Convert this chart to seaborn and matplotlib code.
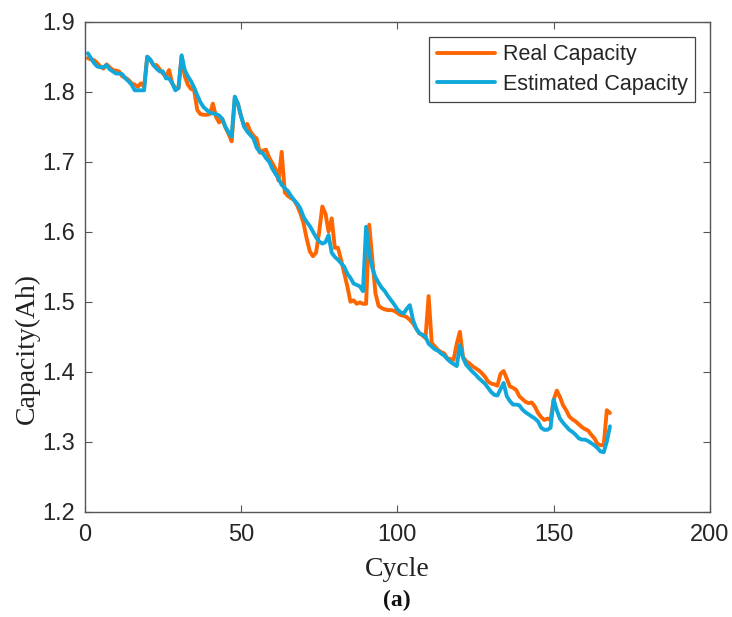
import numpy as np
import pandas as pd
import matplotlib
matplotlib.use("Agg")
import matplotlib.pyplot as plt
import seaborn as sns
from matplotlib.lines import Line2D

cycles = list(range(1, 169))

real_capacity = [
    1.848, 1.846, 1.845, 1.841, 1.836, 1.833, 1.839, 1.835, 1.831, 1.830,
    1.829, 1.822, 1.820, 1.817, 1.812, 1.810, 1.807, 1.812, 1.807, 1.850,
    1.845, 1.838, 1.838, 1.832, 1.826, 1.822, 1.831, 1.812, 1.805, 1.806,
    1.850, 1.822, 1.810, 1.804, 1.802, 1.774, 1.768, 1.767, 1.767, 1.768,
    1.783, 1.764, 1.756, 1.761, 1.749, 1.740, 1.729, 1.790, 1.783, 1.765,
    1.751, 1.754, 1.743, 1.737, 1.733, 1.713, 1.716, 1.717, 1.706, 1.698,
    1.690, 1.673, 1.714, 1.656, 1.651, 1.648, 1.645, 1.637, 1.626, 1.612,
    1.590, 1.572, 1.565, 1.570, 1.600, 1.636, 1.626, 1.600, 1.619, 1.577,
    1.577, 1.560, 1.541, 1.522, 1.500, 1.502, 1.497, 1.499, 1.497, 1.497,
    1.610, 1.560, 1.512, 1.494, 1.491, 1.489, 1.488, 1.488, 1.487, 1.484,
    1.481, 1.480, 1.478, 1.474, 1.469, 1.462, 1.455, 1.452, 1.448, 1.508,
    1.441, 1.436, 1.431, 1.428, 1.426, 1.419, 1.418, 1.417, 1.440, 1.457,
    1.421, 1.415, 1.412, 1.408, 1.405, 1.402, 1.398, 1.393, 1.386, 1.383,
    1.382, 1.380, 1.397, 1.401, 1.390, 1.379, 1.377, 1.374, 1.365, 1.361,
    1.357, 1.355, 1.356, 1.350, 1.341, 1.335, 1.331, 1.333, 1.331, 1.360,
    1.373, 1.364, 1.352, 1.345, 1.336, 1.332, 1.329, 1.325, 1.321, 1.318,
    1.316, 1.310, 1.305, 1.297, 1.295, 1.295, 1.345, 1.341,
]

estimated_capacity = [
    1.855, 1.848, 1.841, 1.836, 1.835, 1.835, 1.838, 1.832, 1.829, 1.826,
    1.826, 1.825, 1.819, 1.815, 1.810, 1.802, 1.802, 1.802, 1.802, 1.850,
    1.846, 1.838, 1.833, 1.829, 1.829, 1.819, 1.819, 1.812, 1.802, 1.805,
    1.852, 1.831, 1.822, 1.815, 1.806, 1.795, 1.785, 1.778, 1.774, 1.770,
    1.769, 1.768, 1.766, 1.761, 1.750, 1.742, 1.736, 1.793, 1.783, 1.765,
    1.750, 1.743, 1.738, 1.733, 1.720, 1.714, 1.712, 1.705, 1.700, 1.690,
    1.683, 1.676, 1.667, 1.662, 1.658, 1.651, 1.645, 1.640, 1.633, 1.621,
    1.614, 1.608, 1.600, 1.592, 1.586, 1.583, 1.585, 1.595, 1.570, 1.564,
    1.560, 1.555, 1.550, 1.540, 1.534, 1.526, 1.524, 1.522, 1.515, 1.607,
    1.569, 1.548, 1.535, 1.527, 1.520, 1.515, 1.508, 1.502, 1.496, 1.489,
    1.485, 1.483, 1.490, 1.495, 1.474, 1.462, 1.455, 1.453, 1.450, 1.440,
    1.436, 1.432, 1.430, 1.426, 1.423, 1.418, 1.414, 1.411, 1.408, 1.438,
    1.420, 1.410, 1.405, 1.400, 1.396, 1.391, 1.387, 1.383, 1.377, 1.371,
    1.367, 1.366, 1.375, 1.384, 1.365, 1.358, 1.353, 1.353, 1.352, 1.346,
    1.342, 1.339, 1.336, 1.333, 1.329, 1.320, 1.317, 1.317, 1.320, 1.360,
    1.345, 1.333, 1.327, 1.322, 1.317, 1.314, 1.310, 1.305, 1.303, 1.303,
    1.301, 1.298, 1.295, 1.291, 1.286, 1.285, 1.300, 1.322,
]

series_names = ["Real Capacity", "Estimated Capacity"]
series_colors = ["#FF6600", "#10A8DA"]

x_ticks = [0, 50, 100, 150, 200]
y_ticks = [1.2, 1.3, 1.4, 1.5, 1.6, 1.7, 1.8, 1.9]

df = pd.DataFrame({
    "Cycle": cycles * 2,
    "Capacity": real_capacity + estimated_capacity,
    "Series": [series_names[0]] * len(cycles) + [series_names[1]] * len(cycles),
})

sns.set_theme(style="white")
plt.rcParams["font.family"] = ["Liberation Sans", "DejaVu Sans"]

W, H = 732, 617
L, R, T, B = 84.7, 710.0, 21.7, 511.7
fig = plt.figure(figsize=(W / 100, H / 100), dpi=100)
ax = fig.add_axes([L / W, 1 - B / H, (R - L) / W, (B - T) / H])

sns.lineplot(data=df, x="Cycle", y="Capacity", hue="Series",
             hue_order=series_names, palette=series_colors,
             linewidth=2.8, ax=ax, legend=False)

ax.set_xlim(0, 200)
ax.set_ylim(1.2, 1.9)
ax.set_xticks(x_ticks)
ax.set_yticks(y_ticks)
ax.set_xticklabels([str(t) for t in x_ticks])
ax.set_yticklabels([f"{t:.1f}" for t in y_ticks])

ax.tick_params(direction="in", length=5, width=0.8, color="#555555",
               labelsize=17, labelcolor="#262626",
               top=True, right=True, bottom=True, left=True)
ax.tick_params(axis="x", pad=9)
ax.tick_params(axis="y", pad=7)
for sp in ax.spines.values():
    sp.set_visible(True)
    sp.set_color("#555555")
    sp.set_linewidth(1.0)

serif = ["Liberation Serif", "DejaVu Serif"]
ax.set_xlabel("Cycle", fontsize=20, family=serif, color="#222222")
ax.set_ylabel("Capacity(Ah)", fontsize=20, family=serif, color="#222222")
ax.xaxis.set_label_coords((397 - L) / (R - L), (B - 570) / (B - T))
ax.xaxis.label.set_va("center")
ax.yaxis.set_label_coords((27 - L) / (R - L), (B - 349) / (B - T))
ax.yaxis.label.set_va("center")

handles = [Line2D([], [], color=c, lw=2.8) for c in series_colors]
leg = ax.legend(handles, series_names, loc="upper right",
                bbox_to_anchor=((695 - L) / (R - L), (B - 36.7) / (B - T)),
                borderaxespad=0, fontsize=15.5,
                frameon=True, fancybox=False, framealpha=1,
                edgecolor="#444444", handlelength=2.7, handletextpad=0.35,
                borderpad=0.35, labelspacing=0.4)
leg.get_frame().set_linewidth(0.9)

fig.text(397 / W, 1 - 600 / H, "(a)", ha="center", va="center",
         fontsize=17, family=serif, weight="bold", color="#111111")

fig.savefig("out.png", dpi=100)
